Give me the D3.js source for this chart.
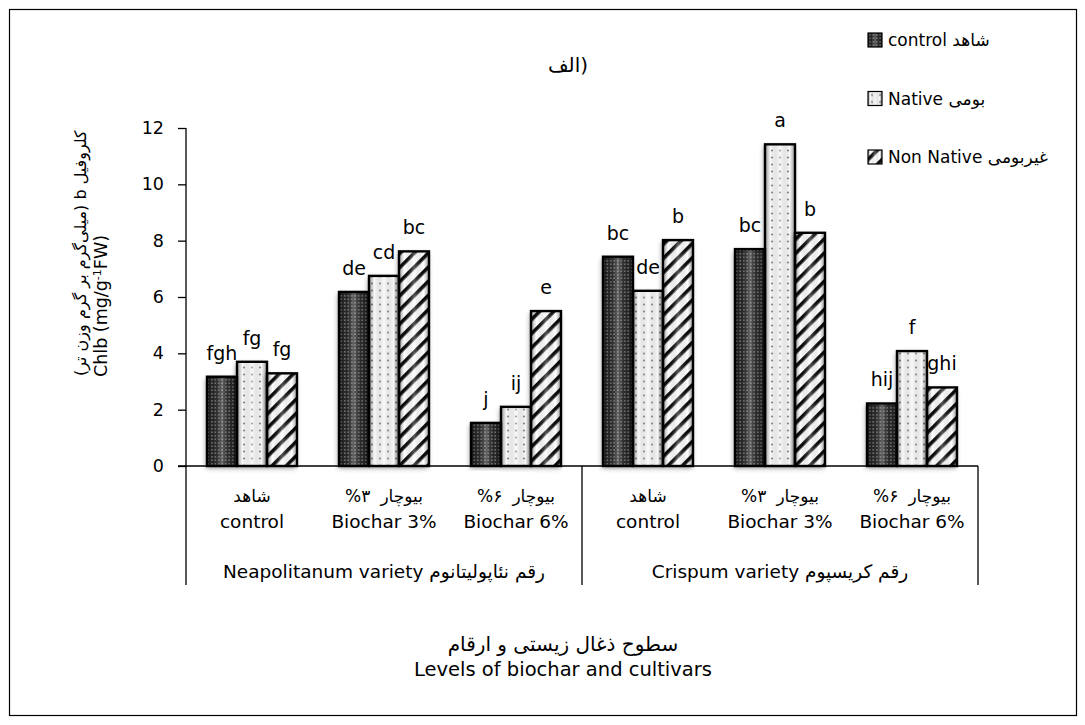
<!DOCTYPE html>
<html>
<head>
<meta charset="utf-8">
<script src="https://cdn.jsdelivr.net/npm/d3@7"></script>
<style>
  body { margin: 0; background: #fff; }
  text { font-family: "DejaVu Sans", sans-serif; fill: #000; }
</style>
</head>
<body>
<div id="grafica"></div>
<script>
// Datos
const varieties = ["Neapolitanum", "Crispum"]
const varietyLabels = ["Neapolitanum variety رقم نئاپولیتانوم", "Crispum variety  رقم کریسپوم"]
const levels = ["control", "biochar3", "biochar6"]
const levelLabelsEn = ["control", "Biochar 3%", "Biochar 6%"]
// piezas persas, en orden visual de izquierda a derecha
const levelLabelsFa = [["شاهد"], ["%۳", "بیوچار"], ["%۶", "بیوچار"]]
const series = ["control", "native", "nonNative"]
const seriesLabels = ["control  شاهد", "Native  بومی", "Non Native غیربومی"]
const controlValues = [3.17, 6.18, 1.53, 7.43, 7.7, 2.22]
const nativeValues = [3.7, 6.75, 2.1, 6.22, 11.42, 4.08]
const nonNativeValues = [3.29, 7.62, 5.5, 8.02, 8.28, 2.79]
const controlLetters = ["fgh", "de", "j", "bc", "bc", "hij"]
const nativeLetters = ["fg", "cd", "ij", "de", "a", "f"]
const nonNativeLetters = ["fg", "bc", "e", "b", "b", "ghi"]
const yTicks = [0, 2, 4, 6, 8, 10, 12]

const anchoTotal = 1085
const altoTotal = 725

const svg = d3.select("#grafica").append("svg")
    .attr("width", anchoTotal)
    .attr("height", altoTotal)

// marco exterior
svg.append("rect")
    .attr("x", 9.5).attr("y", 9.5)
    .attr("width", 1067).attr("height", 706)
    .attr("fill", "none").attr("stroke", "#000").attr("stroke-width", 1.2)

// Patrones
const defs = svg.append("defs")

const pControl = defs.append("pattern").attr("id", "pat-control")
    .attr("patternUnits", "userSpaceOnUse").attr("width", 3.5).attr("height", 3.5)
pControl.append("rect").attr("width", 3.5).attr("height", 3.5).attr("fill", "#262626")
pControl.append("rect").attr("x", 1).attr("y", 1).attr("width", 1.6).attr("height", 1.6).attr("fill", "#7a7a7a")

const pNative = defs.append("pattern").attr("id", "pat-native")
    .attr("patternUnits", "userSpaceOnUse").attr("width", 8).attr("height", 7)
pNative.append("rect").attr("width", 8).attr("height", 7).attr("fill", "#f8f8f8")
pNative.append("circle").attr("cx", 4).attr("cy", 3.5).attr("r", 1.1).attr("fill", "#8a8a8a")

const pNon = defs.append("pattern").attr("id", "pat-nonNative")
    .attr("patternUnits", "userSpaceOnUse").attr("width", 10).attr("height", 10)
    .attr("patternTransform", "rotate(45)")
pNon.append("rect").attr("width", 10).attr("height", 10).attr("fill", "#fff")
pNon.append("rect").attr("width", 3.6).attr("height", 10).attr("fill", "#111")

const bevel = defs.append("linearGradient").attr("id", "bevel")
    .attr("x1", "0").attr("x2", "1").attr("y1", "0").attr("y2", "0")
bevel.selectAll("stop")
    .data([[0, "#000", 0.4], [0.18, "#000", 0], [0.5, "#fff", 0.3], [0.82, "#000", 0], [1, "#000", 0.4]])
    .join("stop")
    .attr("offset", d => d[0]).attr("stop-color", d => d[1]).attr("stop-opacity", d => d[2])

const sombra = defs.append("filter").attr("id", "sombra")
    .attr("x", "-40%").attr("y", "-10%").attr("width", "180%").attr("height", "120%")
sombra.append("feDropShadow")
    .attr("dx", -1).attr("dy", 2).attr("stdDeviation", 2.5)
    .attr("flood-color", "#000").attr("flood-opacity", 0.45)

const fillFor = { control: "url(#pat-control)", native: "url(#pat-native)", nonNative: "url(#pat-nonNative)" }

// Escaladores
const y = d3.scaleLinear().domain([0, 12]).range([466, 128])
const xVar = d3.scaleBand().domain(varieties).range([186, 978]).padding(0)
const xLevel = d3.scaleBand().domain(levels).range([0, xVar.bandwidth()]).padding(0)
const xSerie = d3.scaleBand().domain(series).range([0, xLevel.bandwidth()])
    .paddingInner(0).paddingOuter(0.7)

// tabla de barras construida desde los arreglos
const valores = { control: controlValues, native: nativeValues, nonNative: nonNativeValues }
const letras = { control: controlLetters, native: nativeLetters, nonNative: nonNativeLetters }
const data = []
varieties.forEach((v, i) => {
    levels.forEach((l, j) => {
        series.forEach(s => {
            const k = i * levels.length + j
            data.push({ variety: v, level: l, serie: s, value: valores[s][k], letter: letras[s][k] })
        })
    })
})
const xAccessor = d => xVar(d.variety) + xLevel(d.level) + xSerie(d.serie)

// Eje Y
const yAxis = d3.axisLeft(y).tickValues(yTicks).tickSize(8).tickPadding(14)
const yAxisGroup = svg.append("g")
    .attr("transform", "translate(186,0)")
    .call(yAxis)
yAxisGroup.select(".domain").remove()
yAxisGroup.selectAll("line").attr("stroke", "#000").attr("stroke-width", 1.3)
yAxisGroup.selectAll("text").style("font-family", "DejaVu Sans").style("font-size", "17.5px").attr("fill", "#000")

// Barras
const barras = svg.append("g")
barras.selectAll("rect.bar")
    .data(data)
    .join("rect")
    .attr("class", "bar")
    .attr("x", xAccessor)
    .attr("y", d => y(d.value))
    .attr("width", xSerie.bandwidth())
    .attr("height", d => y(0) - y(d.value))
    .attr("fill", d => fillFor[d.serie])
    .attr("filter", "url(#sombra)")
barras.selectAll("rect.bevel")
    .data(data)
    .join("rect")
    .attr("class", "bevel")
    .attr("x", xAccessor)
    .attr("y", d => y(d.value))
    .attr("width", xSerie.bandwidth())
    .attr("height", d => y(0) - y(d.value))
    .attr("fill", "url(#bevel)")
    .attr("stroke", "#000")
    .attr("stroke-width", 2.4)

// Etiquetas de letras
svg.append("g").selectAll("text")
    .data(data)
    .join("text")
    .attr("x", d => xAccessor(d) + xSerie.bandwidth() / 2)
    .attr("y", d => y(d.value) - 17)
    .attr("text-anchor", "middle")
    .style("font-size", "19px")
    .text(d => d.letter)

// Ejes: linea del eje y separadores
svg.append("line")
    .attr("x1", 186).attr("x2", 186).attr("y1", y(12)).attr("y2", 585)
    .attr("stroke", "#000").attr("stroke-width", 1.3)
svg.append("line")
    .attr("x1", xVar.range()[0] - 8).attr("x2", xVar.range()[1]).attr("y1", y(0)).attr("y2", y(0))
    .attr("stroke", "#000").attr("stroke-width", 1.5)
svg.append("g").selectAll("line")
    .data(varieties)
    .join("line")
    .attr("x1", d => xVar(d) + xVar.bandwidth()).attr("x2", d => xVar(d) + xVar.bandwidth())
    .attr("y1", y(0)).attr("y2", 585)
    .attr("stroke", "#000").attr("stroke-width", 1.3)

// Etiquetas del eje X
const niveles = []
varieties.forEach(v => levels.forEach((l, j) => niveles.push({ variety: v, j: j })))
const etiquetasX = svg.append("g").selectAll("g")
    .data(niveles)
    .join("g")
    .attr("transform", d => `translate(${xVar(d.variety) + xLevel(levels[d.j]) + xLevel.bandwidth() / 2},0)`)

// linea persa: piezas separadas, centradas juntas
const hueco = 10
etiquetasX.each(function (d) {
    const g = d3.select(this)
    const piezas = g.selectAll("text.fa")
        .data(levelLabelsFa[d.j])
        .join("text")
        .attr("class", "fa")
        .attr("y", 502)
        .style("font-size", "17px")
        .text(p => p)
    const anchos = piezas.nodes().map(n => n.getComputedTextLength())
    const total = d3.sum(anchos) + hueco * (anchos.length - 1)
    let x0 = -total / 2
    piezas.attr("x", (p, i) => {
        const x = x0
        x0 += anchos[i] + hueco
        return x
    })
})
etiquetasX.append("text")
    .attr("y", 528).attr("text-anchor", "middle")
    .style("font-size", "18.5px")
    .text(d => levelLabelsEn[d.j])

svg.append("g").selectAll("text")
    .data(varieties)
    .join("text")
    .attr("x", d => xVar(d) + xVar.bandwidth() / 2)
    .attr("y", 578)
    .attr("text-anchor", "middle")
    .style("font-size", "18.5px")
    .text((d, i) => varietyLabels[i])

// Titulo del eje X
svg.append("text")
    .attr("x", 563).attr("y", 651)
    .attr("text-anchor", "middle")
    .attr("direction", "rtl")
    .style("font-size", "20px")
    .text("سطوح ذغال زیستی و ارقام")
svg.append("text")
    .attr("x", 563).attr("y", 676)
    .attr("text-anchor", "middle")
    .style("font-size", "19.5px")
    .text("Levels of biochar and cultivars")

// Titulo del eje Y
svg.append("text")
    .attr("transform", "translate(86,376) rotate(-90)")
    .attr("direction", "rtl")
    .attr("text-anchor", "end")
    .style("font-size", "16px")
    .text("کلروفیل b (میلی‌گرم بر گرم وزن تر)")
const yTitle = svg.append("text")
    .attr("transform", "translate(107,377) rotate(-90)")
    .attr("text-anchor", "start")
    .style("font-size", "17.5px")
yTitle.append("tspan").text("Chlb (mg/g")
yTitle.append("tspan").attr("baseline-shift", "super").style("font-size", "11px").text("-1")
yTitle.append("tspan").text("FW)")

// Titulo
svg.append("text")
    .attr("x", 568).attr("y", 72)
    .attr("text-anchor", "middle")
    .style("font-size", "20px")
    .text("الف)")

// Leyenda
const legendY = d3.scalePoint().domain(series).range([40, 157])
const leyenda = svg.append("g").selectAll("g")
    .data(series)
    .join("g")
    .attr("transform", d => `translate(868,${legendY(d)})`)
leyenda.append("rect")
    .attr("x", 0).attr("y", -7).attr("width", 14).attr("height", 14)
    .attr("fill", d => fillFor[d])
leyenda.append("rect")
    .attr("x", 0).attr("y", -7).attr("width", 14).attr("height", 14)
    .attr("fill", "url(#bevel)").attr("stroke", "#000").attr("stroke-width", 1.2)
leyenda.append("text")
    .attr("x", 20).attr("y", 6)
    .style("font-size", "17px")
    .text((d, i) => seriesLabels[i])
</script>
</body>
</html>
